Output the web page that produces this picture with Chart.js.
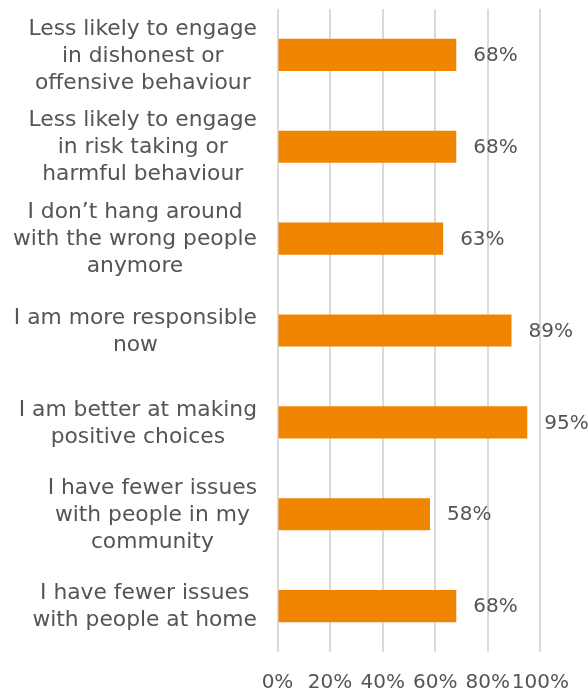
<!DOCTYPE html>
<html>
<head>
<meta charset="utf-8">
<script src="https://cdn.jsdelivr.net/npm/chart.js@4/dist/chart.umd.min.js"></script>
<style>
  html, body { margin: 0; padding: 0; background: #ffffff; }
  #wrap { width: 588px; height: 691px; position: relative; }
</style>
</head>
<body>
<div id="wrap"><canvas id="chart"></canvas></div>
<script>
// Survey statements, each split into the lines shown beside its bar
const categories = [
  ["Less likely to engage", "in dishonest or", "offensive behaviour"],
  ["Less likely to engage", "in risk taking or", "harmful behaviour"],
  ["I don\u2019t hang around", "with the wrong people", "anymore"],
  ["I am more responsible", "now"],
  ["I am better at making", "positive choices"],
  ["I have fewer issues", "with people in my", "community"],
  ["I have fewer issues", "with people at home"]
];

// Share of respondents agreeing, in percent
const values = [68, 68, 63, 89, 95, 58, 68];

// Axis range and step, in percent
const axisMin = 0;
const axisMax = 100;
const axisStep = 20;

const TEXT = '#555555';
const FONT = 'DejaVu Sans';

// Category labels: each block centred on its own widest line, right-aligned to the axis
const categoryLabels = {
  id: 'categoryLabels',
  afterDraw(chart) {
    const ctx = chart.ctx;
    const yScale = chart.scales.y;
    const right = chart.chartArea.left - 20.5;
    const lineH = 27;
    ctx.save();
    ctx.font = '21.8px "' + FONT + '"';
    ctx.fillStyle = TEXT;
    ctx.textAlign = 'center';
    ctx.textBaseline = 'middle';
    categories.forEach((lines, i) => {
      const cy = yScale.getPixelForTick(i);
      const w = Math.max(...lines.map(l => ctx.measureText(l).width));
      const cx = right - w / 2;
      lines.forEach((line, j) => {
        ctx.fillText(line, cx, cy + (j - (lines.length - 1) / 2) * lineH + 1);
      });
    });
    ctx.restore();
  }
};

// Value labels to the right of each bar
const valueLabels = {
  id: 'valueLabels',
  afterDatasetsDraw(chart) {
    const ctx = chart.ctx;
    const meta = chart.getDatasetMeta(0);
    ctx.save();
    ctx.font = '20px "' + FONT + '"';
    ctx.fillStyle = TEXT;
    ctx.textAlign = 'left';
    ctx.textBaseline = 'middle';
    meta.data.forEach((bar, i) => {
      ctx.fillText(values[i] + '%', bar.x + 17, bar.y + 1);
    });
    ctx.restore();
  }
};

new Chart(document.getElementById('chart'), {
  type: 'bar',
  data: {
    labels: categories,
    datasets: [{
      data: values,
      backgroundColor: '#f08500',
      borderWidth: 0,
      barPercentage: 0.7,
      categoryPercentage: 0.5
    }]
  },
  options: {
    indexAxis: 'y',
    responsive: true,
    maintainAspectRatio: false,
    animation: false,
    layout: { padding: { top: 9, right: 47.5, bottom: 0, left: 0 } },
    plugins: {
      legend: { display: false },
      tooltip: { enabled: false }
    },
    scales: {
      x: {
        min: axisMin,
        max: axisMax,
        ticks: {
          stepSize: axisStep,
          padding: 19,
          color: TEXT,
          font: { family: FONT, size: 20 },
          maxRotation: 0,
          autoSkip: false,
          callback: v => v + '%'
        },
        grid: { color: '#dadada', lineWidth: 2, drawTicks: false },
        border: { display: false },
        afterFit(scale) { scale.height = 39; }
      },
      y: {
        ticks: { display: false },
        grid: { display: false, drawTicks: false },
        border: { display: false },
        afterFit(scale) { scale.width = 277.5; }
      }
    }
  },
  plugins: [categoryLabels, valueLabels]
});
</script>
</body>
</html>
